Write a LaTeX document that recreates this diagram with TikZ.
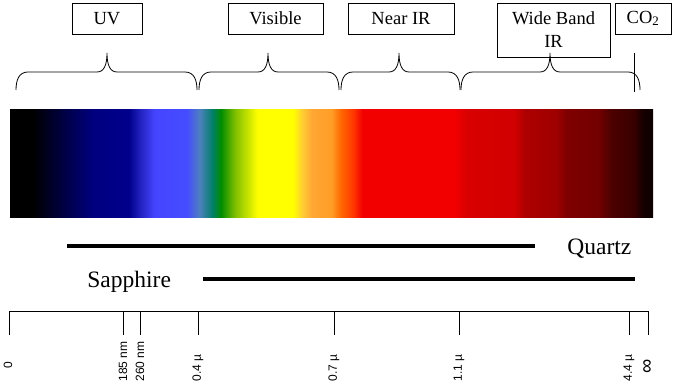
\documentclass[tikz,border=0pt]{standalone}
\usepackage{fontspec}
\setmainfont{Liberation Serif}
\setsansfont{Liberation Sans}
\usepackage{tikz}
\usetikzlibrary{positioning,calc}

% colour stops of the spectrum bar (25bp..75bp = left..right edge)
\pgfdeclarehorizontalshading{spectrum}{100bp}{%
  rgb(0bp)=(0,0,0); rgb(25bp)=(0,0,0); rgb(26.75bp)=(0,0,0);
  rgb(29.5bp)=(0,0,0.3); rgb(31.5bp)=(0,0,0.5); rgb(34.25bp)=(0,0,0.55);
  rgb(35.25bp)=(0.15,0.15,0.78); rgb(36.25bp)=(0.27,0.27,1); rgb(38.75bp)=(0.27,0.3,1);
  rgb(39.75bp)=(0.3,0.5,0.75); rgb(40.75bp)=(0,0.5,0.4); rgb(41.4bp)=(0,0.55,0);
  rgb(42.5bp)=(0.5,0.75,0); rgb(44.25bp)=(1,1,0); rgb(47bp)=(1,1,0);
  rgb(47.75bp)=(1,0.8,0.2); rgb(48.5bp)=(1,0.65,0.2); rgb(50bp)=(1,0.62,0.15);
  rgb(50.75bp)=(1,0.4,0); rgb(51.75bp)=(1,0.2,0); rgb(52.4bp)=(0.95,0,0);
  rgb(59.5bp)=(0.95,0,0); rgb(60.5bp)=(0.85,0,0); rgb(64.25bp)=(0.82,0,0);
  rgb(65bp)=(0.68,0,0); rgb(67.5bp)=(0.62,0,0); rgb(68.25bp)=(0.5,0,0);
  rgb(70.75bp)=(0.45,0,0); rgb(71.75bp)=(0.3,0,0); rgb(73.5bp)=(0.22,0,0);
  rgb(74.25bp)=(0.08,0,0); rgb(75bp)=(0.05,0,0); rgb(100bp)=(0.05,0,0)}

% curly brace under a band label: left end, tip, right end
\newcommand{\specbrace}[3]{%
  \draw (#1,90) .. controls (#1,80) and (#1+3,72) .. (#1+12,72) -- (#2-10,72)
    .. controls (#2-3,72) and (#2,65) .. (#2,53)
    .. controls (#2,65) and (#2+3,72) .. (#2+10,72) -- (#3-12,72)
    .. controls (#3-3,72) and (#3,80) .. (#3,90);
}

\begin{document}
\begin{tikzpicture}[x=1pt, y=-1pt, line width=0.8pt,
    band/.style = {draw, inner sep=0pt, minimum height=31pt, font=\fontsize{18.5}{23}\selectfont},
    glass/.style = {font=\fontsize{23.5}{28}\selectfont},
    tick label/.style = {rotate=90, inner sep=0pt, font=\sffamily\fontsize{12}{14}\selectfont}]
    \useasboundingbox (0,0) rectangle (676,387);

    % Band labels
    \node[band, minimum width=70pt] (uv) at (107,18.5) {UV};
    \node[band, minimum width=95pt] (visible) at (275.5,18.5) {Visible};
    \node[band, minimum width=106pt] (nearir) at (401,18.5) {Near IR};
    \node[band, minimum width=113pt, minimum height=54pt, align=center] (wideir) at (553.5,30) {Wide Band\\IR};
    \node[band, minimum width=56pt] (co2) at (643,18.5) {CO\textsubscript{2}};

    % Braces
    \specbrace{16}{107}{197}
    \specbrace{199}{268}{339}
    \specbrace{341}{399}{460}
    \specbrace{461}{550}{640}
    \draw (634,53) -- (634,92);

    % Spectrum
    \shade[shading=spectrum] (10,110) rectangle (653,217);

    % Transmission ranges
    \coordinate (q1) at (67,246);
    \coordinate (q2) at (535,246);
    \coordinate (s1) at (203,279);
    \coordinate (s2) at (635,279);
    \draw[line width=4.5pt] (q1) -- (q2);
    \draw[line width=4.5pt] (s1) -- (s2);
    \node[glass, anchor=base west, inner sep=0pt] (quartz) at (567,254) {Quartz};
    \node[glass, anchor=base west, inner sep=0pt] (sapphire) at (87,287) {Sapphire};

    % Wavelength scale
    \draw (9,335) -- (9,311) -- (648,311) -- (648,335);
    \node[tick label] (l0) at (8,365) {0};
    \node[tick label, font=\sffamily\fontsize{20}{22}\selectfont] (linf) at (648,366) {∞};
    \foreach \x/\lab in {123/185 nm, 140/260 nm, 198/0.4 µ, 334/0.7 µ, 459/1.1 µ, 629/4.4 µ} {
        \draw (\x,311) -- (\x,335);
        \node[tick label, anchor=west] (l\x) at (\x,382) {\lab};
    }
\end{tikzpicture}
\end{document}
